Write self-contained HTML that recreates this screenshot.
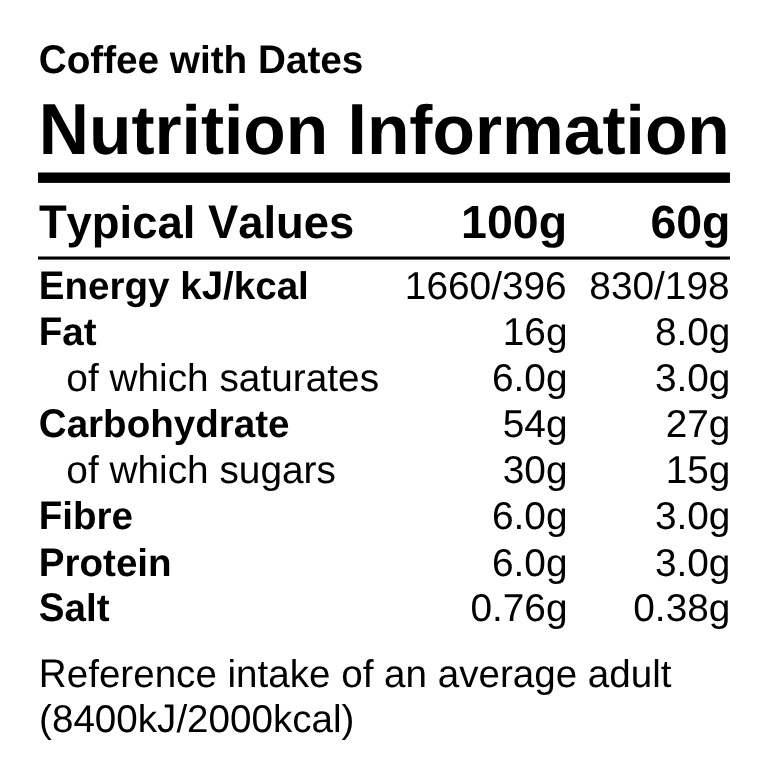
<!DOCTYPE html>
<html><head><meta charset="utf-8"><style>
html,body{margin:0;padding:0;background:#fff;}
body{width:768px;height:771px;position:relative;overflow:hidden;font-family:"Liberation Sans",sans-serif;color:#000;text-rendering:geometricPrecision;filter:grayscale(1);}
.t{position:absolute;white-space:nowrap;font-kerning:none;}
.c{display:inline-block;transform-origin:0 var(--o);}
.bar{position:absolute;background:#000;}
</style></head><body>
<svg width="768" height="771" style="position:absolute;left:0;top:0" shape-rendering="geometricPrecision"><rect x="38" y="172.5" width="692" height="10.4" fill="#000"/><rect x="38" y="256.5" width="692" height="3.1" fill="#000"/></svg>
<div class="t" style="left:38.71px;top:42px;font-size:38.7px;line-height:38.7px;font-weight:700;--o:31px"><span class="c" style="transform:scaleY(1.035)">C</span>offee with <span class="c" style="transform:scaleY(1.035)">D</span>ates</div>
<div class="t" style="left:38.75px;top:96px;font-size:69.5px;line-height:69.5px;font-weight:700;--o:58px"><span class="c" style="transform:scaleY(1.04)">N</span>utrition <span class="c" style="transform:scaleY(1.04)">I</span>nformation</div>
<div class="t" style="left:38.89px;top:200px;font-size:45.4px;line-height:45.4px;font-weight:700;--o:38px"><span class="c" style="transform:scaleY(1.04)">T</span>ypical <span class="c" style="transform:scaleY(1.04)">V</span>alues</div>
<div class="t" style="left:461.12px;top:199px;font-size:46.5px;line-height:46.5px;font-weight:700;--o:39px">100g</div>
<div class="t" style="left:650.38px;top:199px;font-size:46.5px;line-height:46.5px;font-weight:700;--o:39px">60g</div>
<div class="t" style="left:38.80px;top:268px;font-size:38.55px;line-height:38.55px;font-weight:700;--o:31px"><span class="c" style="transform:scaleY(1.04)">E</span>nergy k<span class="c" style="transform:scaleY(1.04)">J</span>/kcal</div>
<div class="t" style="left:404.87px;top:268px;font-size:38.8px;line-height:38.8px;font-weight:400;--o:31px">1660/396</div>
<div class="t" style="left:589.33px;top:268px;font-size:38.8px;line-height:38.8px;font-weight:400;--o:31px">830/198</div>
<div class="t" style="left:38.80px;top:314px;font-size:38.55px;line-height:38.55px;font-weight:700;--o:31px"><span class="c" style="transform:scaleY(1.04)">F</span>at</div>
<div class="t" style="left:502.76px;top:314px;font-size:38.8px;line-height:38.8px;font-weight:400;--o:31px">16g</div>
<div class="t" style="left:654.88px;top:314px;font-size:38.8px;line-height:38.8px;font-weight:400;--o:31px">8.0g</div>
<div class="t" style="left:66.37px;top:360px;font-size:38.8px;line-height:38.8px;font-weight:400;--o:31px">of which saturates</div>
<div class="t" style="left:491.98px;top:360px;font-size:38.8px;line-height:38.8px;font-weight:400;--o:31px">6.0g</div>
<div class="t" style="left:654.88px;top:360px;font-size:38.8px;line-height:38.8px;font-weight:400;--o:31px">3.0g</div>
<div class="t" style="left:38.80px;top:406px;font-size:38.55px;line-height:38.55px;font-weight:700;--o:31px"><span class="c" style="transform:scaleY(1.04)">C</span>arbohydrate</div>
<div class="t" style="left:502.76px;top:406px;font-size:38.8px;line-height:38.8px;font-weight:400;--o:31px">54g</div>
<div class="t" style="left:665.66px;top:406px;font-size:38.8px;line-height:38.8px;font-weight:400;--o:31px">27g</div>
<div class="t" style="left:66.37px;top:452px;font-size:38.8px;line-height:38.8px;font-weight:400;--o:31px">of which sugars</div>
<div class="t" style="left:502.76px;top:452px;font-size:38.8px;line-height:38.8px;font-weight:400;--o:31px">30g</div>
<div class="t" style="left:665.66px;top:452px;font-size:38.8px;line-height:38.8px;font-weight:400;--o:31px">15g</div>
<div class="t" style="left:38.80px;top:498px;font-size:38.55px;line-height:38.55px;font-weight:700;--o:31px"><span class="c" style="transform:scaleY(1.04)">F</span>ibre</div>
<div class="t" style="left:491.98px;top:498px;font-size:38.8px;line-height:38.8px;font-weight:400;--o:31px">6.0g</div>
<div class="t" style="left:654.88px;top:498px;font-size:38.8px;line-height:38.8px;font-weight:400;--o:31px">3.0g</div>
<div class="t" style="left:38.80px;top:545px;font-size:38.55px;line-height:38.55px;font-weight:700;--o:31px"><span class="c" style="transform:scaleY(1.04)">P</span>rotein</div>
<div class="t" style="left:491.98px;top:545px;font-size:38.8px;line-height:38.8px;font-weight:400;--o:31px">6.0g</div>
<div class="t" style="left:654.88px;top:545px;font-size:38.8px;line-height:38.8px;font-weight:400;--o:31px">3.0g</div>
<div class="t" style="left:38.80px;top:590px;font-size:38.55px;line-height:38.55px;font-weight:700;--o:31px"><span class="c" style="transform:scaleY(1.04)">S</span>alt</div>
<div class="t" style="left:470.41px;top:590px;font-size:38.8px;line-height:38.8px;font-weight:400;--o:31px">0.76g</div>
<div class="t" style="left:633.31px;top:590px;font-size:38.8px;line-height:38.8px;font-weight:400;--o:31px">0.38g</div>
<div class="t" style="left:38.83px;top:656px;font-size:38.6px;line-height:38.6px;font-weight:400;--o:31px"><span class="c" style="transform:scaleY(1.04)">R</span>eference intake of an average adult</div>
<div class="t" style="left:39.11px;top:701px;font-size:38.6px;line-height:38.6px;font-weight:400;--o:31px">(8400k<span class="c" style="transform:scaleY(1.04)">J</span>/2000kcal)</div>
</body></html>
